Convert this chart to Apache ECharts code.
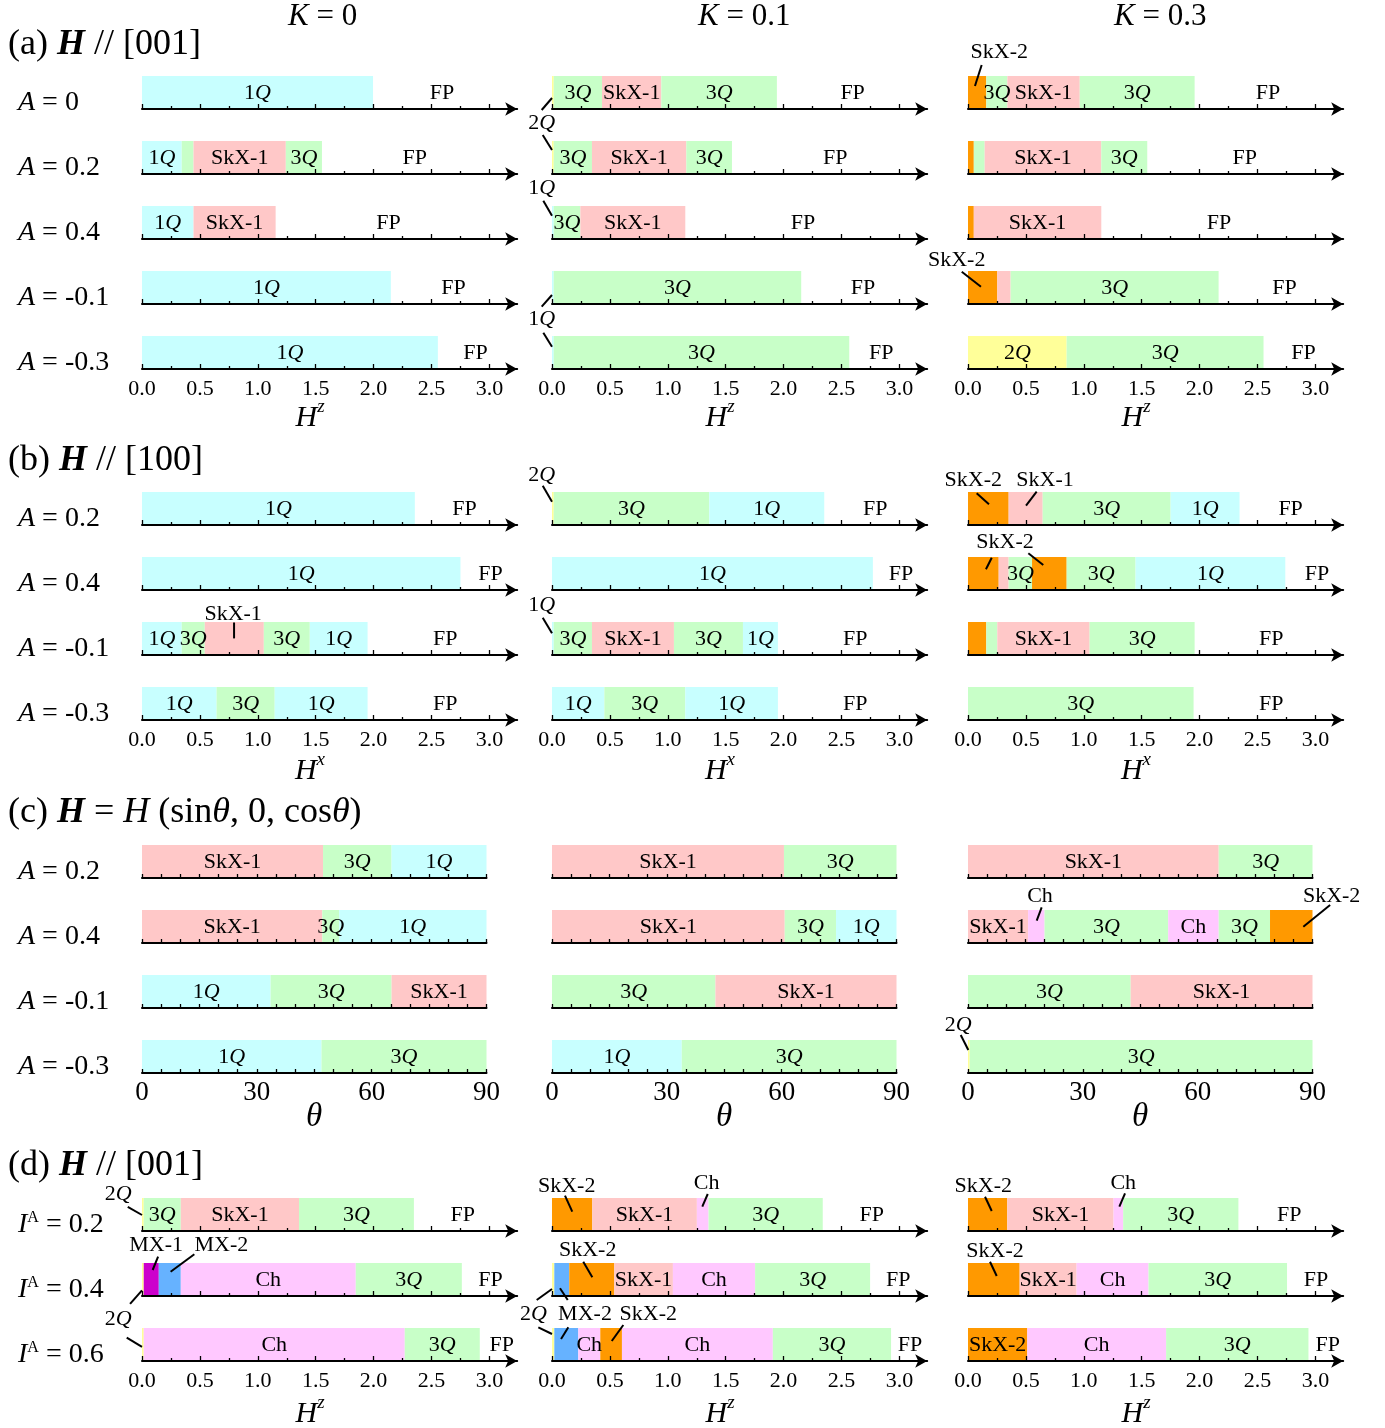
<!DOCTYPE html>
<html>
<head>
<meta charset="utf-8">
<script src="https://cdn.jsdelivr.net/npm/echarts@6/dist/echarts.min.js"></script>
<style>html,body{margin:0;padding:0;background:#fff}#chart{width:1385px;height:1428px}</style>
</head>
<body>
<div id="chart"></div>
<script>
// ---------------- DATA ----------------
// tick values / labels
const H_TICK_LABELS = [0, 0.5, 1.0, 1.5, 2.0, 2.5, 3.0];
const H_MINOR_TICKS = [0.25, 0.75, 1.25, 1.75, 2.25, 2.75];
const THETA_TICK_LABELS = [0, 30, 60, 90];
const THETA_TICKS = [0, 5, 10, 15, 20, 25, 30, 35, 40, 45, 50, 55, 60, 65, 70, 75, 80, 85, 90];

// column headers (K values)
const K_VALUES = ['0', '0.1', '0.3'];
// row labels
const ROWS_A = ['0', '0.2', '0.4', '-0.1', '-0.3'];
const ROWS_B = ['0.2', '0.4', '-0.1', '-0.3'];
const ROWS_C = ['0.2', '0.4', '-0.1', '-0.3'];
const ROWS_D = ['0.2', '0.4', '0.6'];

// segments: [start, end, phase, showLabel]
// (a) H // [001], x = H^z
const SEG_A_K0 = [
  [[0, 1.995, '1Q', 1]],
  [[0, 0.343, '1Q', 1], [0.343, 0.445, '3Q', 0], [0.445, 1.242, 'SkX-1', 1], [1.242, 1.554, '3Q', 1]],
  [[0, 0.445, '1Q', 1], [0.445, 1.154, 'SkX-1', 1]],
  [[0, 2.149, '1Q', 1]],
  [[0, 2.555, '1Q', 1]]
];
const FP_A_K0 = [2.59, 2.356, 2.129, 2.69, 2.88];
const SEG_A_K01 = [
  [[0, 0.015, '2Q', 0], [0.015, 0.432, '3Q', 1], [0.432, 0.944, 'SkX-1', 1], [0.944, 1.942, '3Q', 1]],
  [[0, 0.015, '2Q', 0], [0.015, 0.345, '3Q', 1], [0.345, 1.16, 'SkX-1', 1], [1.16, 1.554, '3Q', 1]],
  [[0, 0.015, '1Q', 0], [0.015, 0.245, '3Q', 1], [0.245, 1.151, 'SkX-1', 1]],
  [[0, 0.015, '1Q', 0], [0.015, 2.152, '3Q', 1]],
  [[0, 0.015, '1Q', 0], [0.015, 2.567, '3Q', 1]]
];
const FP_A_K01 = [2.596, 2.446, 2.167, 2.685, 2.843];
const SEG_A_K03 = [
  [[0, 0.158, 'SkX-2', 0], [0.158, 0.34, '3Q', 1], [0.34, 0.965, 'SkX-1', 1], [0.965, 1.957, '3Q', 1]],
  [[0, 0.05, 'SkX-2', 0], [0.05, 0.144, '3Q', 0], [0.144, 1.151, 'SkX-1', 1], [1.151, 1.548, '3Q', 1]],
  [[0, 0.05, 'SkX-2', 0], [0.05, 1.151, 'SkX-1', 1]],
  [[0, 0.253, 'SkX-2', 0], [0.253, 0.368, 'SkX-1', 0], [0.368, 2.164, '3Q', 1]],
  [[0, 0.852, '2Q', 1], [0.852, 2.552, '3Q', 1]]
];
const FP_A_K03 = [2.59, 2.389, 2.167, 2.734, 2.898];

// (b) H // [100], x = H^x
const SEG_B_K0 = [
  [[0, 2.356, '1Q', 1]],
  [[0, 2.75, '1Q', 1]],
  [[0, 0.343, '1Q', 1], [0.343, 0.542, '3Q', 1], [0.542, 1.052, 'SkX-1', 0], [1.052, 1.449, '3Q', 1], [1.449, 1.948, '1Q', 1]],
  [[0, 0.644, '1Q', 1], [0.644, 1.146, '3Q', 1], [1.146, 1.948, '1Q', 1]]
];
const FP_B_K0 = [2.785, 3.01, 2.619, 2.619];
const SEG_B_K01 = [
  [[0, 0.015, '2Q', 0], [0.015, 1.358, '3Q', 1], [1.358, 2.351, '1Q', 1]],
  [[0, 2.771, '1Q', 1]],
  [[0, 0.015, '1Q', 0], [0.015, 0.345, '3Q', 1], [0.345, 1.053, 'SkX-1', 1], [1.053, 1.649, '3Q', 1], [1.649, 1.951, '1Q', 1]],
  [[0, 0.452, '1Q', 1], [0.452, 1.151, '3Q', 1], [1.151, 1.951, '1Q', 1]]
];
const FP_B_K01 = [2.791, 3.013, 2.619, 2.619];
const SEG_B_K03 = [
  [[0, 0.351, 'SkX-2', 0], [0.351, 0.645, 'SkX-1', 0], [0.645, 1.75, '3Q', 1], [1.75, 2.345, '1Q', 1]],
  [[0, 0.265, 'SkX-2', 0], [0.265, 0.351, 'SkX-1', 0], [0.351, 0.553, '3Q', 1], [0.553, 0.852, 'SkX-2', 0], [0.852, 1.447, '3Q', 1], [1.447, 2.74, '1Q', 1]],
  [[0, 0.158, 'SkX-2', 0], [0.158, 0.253, '3Q', 0], [0.253, 1.05, 'SkX-1', 1], [1.05, 1.957, '3Q', 1]],
  [[0, 1.948, '3Q', 1]]
];
const FP_B_K03 = [2.786, 3.013, 2.619, 2.619];

// (c) H = H(sin θ, 0, cos θ), x = θ
const SEG_C_K0 = [
  [[0, 47.3, 'SkX-1', 1], [47.3, 65.2, '3Q', 1], [65.2, 90, '1Q', 1]],
  [[0, 47.1, 'SkX-1', 1], [47.1, 51.5, '3Q', 1], [51.5, 90, '1Q', 1]],
  [[0, 33.6, '1Q', 1], [33.6, 65.2, '3Q', 1], [65.2, 90, 'SkX-1', 1]],
  [[0, 46.9, '1Q', 1], [46.9, 90, '3Q', 1]]
];
const SEG_C_K01 = [
  [[0, 60.6, 'SkX-1', 1], [60.6, 90, '3Q', 1]],
  [[0, 60.8, 'SkX-1', 1], [60.8, 74.2, '3Q', 1], [74.2, 90, '1Q', 1]],
  [[0, 42.7, '3Q', 1], [42.7, 90, 'SkX-1', 1]],
  [[0, 33.9, '1Q', 1], [33.9, 90, '3Q', 1]]
];
const SEG_C_K03 = [
  [[0, 65.5, 'SkX-1', 1], [65.5, 90, '3Q', 1]],
  [[0, 15.7, 'SkX-1', 1], [15.7, 20.0, 'Ch', 0], [20.0, 52.3, '3Q', 1], [52.3, 65.5, 'Ch', 1], [65.5, 78.9, '3Q', 1], [78.9, 90, 'SkX-2', 0]],
  [[0, 42.5, '3Q', 1], [42.5, 90, 'SkX-1', 1]],
  [[0, 0.44, '2Q', 0], [0.44, 90, '3Q', 1]]
];

// (d) H // [001], I^A rows, x = H^z
const SEG_D_K0 = [
  [[0, 0.015, '2Q', 0], [0.015, 0.335, '3Q', 1], [0.335, 1.356, 'SkX-1', 1], [1.356, 2.348, '3Q', 1]],
  [[0, 0.015, '2Q', 0], [0.015, 0.145, 'MX-1', 0], [0.145, 0.335, 'MX-2', 0], [0.335, 1.846, 'Ch', 1], [1.846, 2.762, '3Q', 1]],
  [[0, 0.015, '2Q', 0], [0.015, 2.269, 'Ch', 1], [2.269, 2.917, '3Q', 1]]
];
const FP_D_K0 = [2.77, 3.01, 3.106];
const SEG_D_K01 = [
  [[0, 0.348, 'SkX-2', 0], [0.348, 1.251, 'SkX-1', 1], [1.251, 1.352, 'Ch', 0], [1.352, 2.338, '3Q', 1]],
  [[0, 0.02, '2Q', 0], [0.02, 0.149, 'MX-2', 0], [0.149, 0.538, 'SkX-2', 0], [0.538, 1.044, 'SkX-1', 1], [1.044, 1.754, 'Ch', 1], [1.754, 2.747, '3Q', 1]],
  [[0, 0.02, '2Q', 0], [0.02, 0.227, 'MX-2', 0], [0.227, 0.417, 'Ch', 1], [0.417, 0.604, 'SkX-2', 0], [0.604, 1.907, 'Ch', 1], [1.907, 2.928, '3Q', 1]]
];
const FP_D_K01 = [2.761, 2.991, 3.092];
const SEG_D_K03 = [
  [[0, 0.339, 'SkX-2', 0], [0.339, 1.257, 'SkX-1', 1], [1.257, 1.34, 'Ch', 0], [1.34, 2.335, '3Q', 1]],
  [[0, 0.446, 'SkX-2', 0], [0.446, 0.938, 'SkX-1', 1], [0.938, 1.559, 'Ch', 1], [1.559, 2.755, '3Q', 1]],
  [[0, 0.512, 'SkX-2', 1], [0.512, 1.711, 'Ch', 1], [1.711, 2.94, '3Q', 1]]
];
const FP_D_K03 = [2.775, 3.005, 3.106];

// callouts (label + leader lines) in data coordinates of the row: [x value, height above axis]
const CALLOUTS_A_K01 = [
  {row: 0, text: '2Q', at: [-0.089, -14], lines: [[-0.089, -1, 0, 11], [-0.080, -26, 0, -41]]},
  {row: 2, text: '1Q', at: [-0.089, 50.5], lines: [[-0.075, 38.3, 0, 23.3]]},
  {row: 3, text: '1Q', at: [-0.089, -15], lines: [[-0.089, -2.7, 0, 9], [-0.075, -28.7, 0, -42.7]]}
];
const CALLOUTS_A_K03 = [
  {row: 0, text: 'SkX-2', at: [0.27, 56.3], lines: [[0.118, 44, 0.06, 23]]},
  {row: 3, text: 'SkX-2', at: [-0.098, 44], lines: [[-0.054, 32.3, 0.112, 17.3]]}
];
const CALLOUTS_B_K0 = [
  {row: 2, text: 'SkX-1', at: [0.787, 41], lines: [[0.795, 32.5, 0.795, 16.6]]}
];
const CALLOUTS_B_K01 = [
  {row: 0, text: '2Q', at: [-0.089, 50], lines: [[-0.080, 39.3, 0, 23.3]]},
  {row: 2, text: '1Q', at: [-0.089, 49.3], lines: [[-0.080, 37.3, 0, 21.7]]}
];
const CALLOUTS_B_K03 = [
  {row: 0, text: 'SkX-2', at: [0.046, 45], lines: [[0.075, 31.7, 0.181, 20.7]]},
  {row: 0, text: 'SkX-1', at: [0.665, 45], lines: [[0.593, 33.3, 0.501, 19.3]]},
  {row: 1, text: 'SkX-2', at: [0.320, 47.7], lines: [[0.205, 32.3, 0.155, 20.7], [0.521, 36.7, 0.650, 25]]}
];
const CALLOUTS_C_K03 = [
  {row: 1, text: 'Ch', at: [18.8, 46.3], lines: [[19.25, 35.7, 17.95, 22.3]]},
  {row: 1, text: 'SkX-2', at: [95.0, 46.3], lines: [[94.6, 38, 87.6, 16.3]]},
  {row: 3, text: '2Q', at: [-2.53, 48], lines: [[-1.9, 38, 0.08, 23]]}
];
const CALLOUTS_D_K0 = [
  {row: 0, text: '2Q', at: [-0.205, 37], lines: [[-0.123, 24.1, 0, 16]]},
  {row: 1, text: 'MX-1', at: [0.122, 50.3], lines: [[0.139, 39.4, 0.092, 26]]},
  {row: 1, text: 'MX-2', at: [0.685, 50.3], lines: [[0.452, 41.8, 0.247, 24.2]]},
  {row: 1, text: '2Q', at: [-0.205, -23], lines: [[-0.103, -7.9, 0, 5.7], [-0.132, -41.6, 0, -50.8]]}
];
const CALLOUTS_D_K01 = [
  {row: 0, text: 'SkX-2', at: [0.127, 44.3], lines: [[0.112, 35.3, 0.175, 19.3]]},
  {row: 0, text: 'Ch', at: [1.336, 47.7], lines: [[1.345, 37, 1.298, 24.3]]},
  {row: 1, text: 'SkX-2', at: [0.308, 45.3], lines: [[0.270, 34.3, 0.348, 18.7]]},
  {row: 1, text: '2Q', at: [-0.161, -18], lines: [[-0.132, -4, 0, 7], [-0.118, -31.3, 0, -38]]},
  {row: 1, text: 'MX-2', at: [0.285, -18], lines: [[0.136, -4, 0.069, 7.7], [0.141, -31.3, 0.078, -43]]},
  {row: 1, text: 'SkX-2', at: [0.832, -18], lines: [[0.616, -29, 0.516, -45]]}
];
const CALLOUTS_D_K03 = [
  {row: 0, text: 'SkX-2', at: [0.132, 44.3], lines: [[0.147, 34.3, 0.205, 20]]},
  {row: 0, text: 'Ch', at: [1.341, 47.7], lines: [[1.356, 37.7, 1.307, 24.3]]},
  {row: 1, text: 'SkX-2', at: [0.233, 45], lines: [[0.190, 34.3, 0.248, 20]]}
];

// ---------------- STYLE / LAYOUT ----------------
const SERIF = 'Liberation Serif';
const PHASE_COLORS = {
  '1Q': '#c8ffff', '2Q': '#ffff99', '3Q': '#c8ffc8', 'SkX-1': '#ffc8c8',
  'SkX-2': '#ff9900', 'Ch': '#ffc8ff', 'MX-1': '#cc00cc', 'MX-2': '#66b2ff'
};
const PHASE_TEXT = {
  '1Q': '1{q|Q}', '2Q': '2{q|Q}', '3Q': '3{q|Q}', 'SkX-1': 'SkX-1', 'SkX-2': 'SkX-2',
  'Ch': 'Ch', 'MX-1': 'MX-1', 'MX-2': 'MX-2', 'FP': 'FP'
};
const COL_X0 = [142, 552, 968];
const H_PX = 115.8;          // px per unit of field
const H_LINE_MAX = 3.24;     // axis line end (arrow tip slightly beyond)
const THETA_W = 344.5;
const BAR_H = 33;
const ROW_GAP = 65;
const LABEL_Y = 16;

const SECTIONS = [
  {title: '(a) {b|H} // [001]', titleY: 45, y0: 109, kind: 'H', rows: ROWS_A, prefix: '{i|A} = ',
   segs: [SEG_A_K0, SEG_A_K01, SEG_A_K03], fp: [FP_A_K0, FP_A_K01, FP_A_K03],
   callouts: [[], CALLOUTS_A_K01, CALLOUTS_A_K03], axisName: '{i|H}{s|z}', nameY: 418},
  {title: '(b) {b|H} // [100]', titleY: 461, y0: 525, kind: 'H', rows: ROWS_B, prefix: '{i|A} = ',
   segs: [SEG_B_K0, SEG_B_K01, SEG_B_K03], fp: [FP_B_K0, FP_B_K01, FP_B_K03],
   callouts: [CALLOUTS_B_K0, CALLOUTS_B_K01, CALLOUTS_B_K03], axisName: '{i|H}{s|x}', nameY: 771},
  {title: '(c) {b|H} = {i|H} (sin{i|θ}, 0, cos{i|θ})', titleY: 813, y0: 878, kind: 'T', rows: ROWS_C, prefix: '{i|A} = ',
   segs: [SEG_C_K0, SEG_C_K01, SEG_C_K03], fp: null,
   callouts: [[], [], CALLOUTS_C_K03], axisName: '{t|θ}', nameY: 1117},
  {title: '(d) {b|H} // [001]', titleY: 1166, y0: 1231, kind: 'H', rows: ROWS_D, prefix: '{i|I}{s|A} = ',
   segs: [SEG_D_K0, SEG_D_K01, SEG_D_K03], fp: [FP_D_K0, FP_D_K01, FP_D_K03],
   callouts: [CALLOUTS_D_K0, CALLOUTS_D_K01, CALLOUTS_D_K03], axisName: '{i|H}{s|z}', nameY: 1414}
];

function textEl(pt, txt) {
  return {
    type: 'text', x: pt[0], y: pt[1], z2: 100,
    style: {
      text: txt, fontFamily: SERIF, fontSize: 22, fill: '#000', align: 'center', verticalAlign: 'middle',
      rich: {q: {fontFamily: SERIF, fontSize: 22, fontStyle: 'italic', fill: '#000'}}
    }
  };
}

function makeRender(segs, fpx, callouts) {
  return function (params, api) {
    const i = params.dataIndex;
    if (i < segs.length) {
      const s = segs[i];
      const a = api.coord([s[0], 0]);
      const b = api.coord([s[1], BAR_H]);
      const ch = [{
        type: 'rect', z2: 1,
        shape: {x: a[0], y: b[1], width: b[0] - a[0], height: a[1] - b[1]},
        style: {fill: PHASE_COLORS[s[2]]}
      }];
      if (s[3]) ch.push(textEl(api.coord([(s[0] + s[1]) / 2, LABEL_Y]), PHASE_TEXT[s[2]]));
      return {type: 'group', children: ch};
    }
    let j = i - segs.length;
    if (fpx != null) {
      if (j === 0) return textEl(api.coord([fpx, LABEL_Y]), 'FP');
      j -= 1;
    }
    const c = callouts[j];
    const ch = c.lines.map(function (l) {
      const p = api.coord([l[0], l[1]]);
      const q = api.coord([l[2], l[3]]);
      return {type: 'line', z2: 90, shape: {x1: p[0], y1: p[1], x2: q[0], y2: q[1]}, style: {stroke: '#000', lineWidth: 2}};
    });
    ch.push(textEl(api.coord(c.at), PHASE_TEXT[c.text]));
    return {type: 'group', children: ch};
  };
}

const grids = [], xAxes = [], yAxes = [], series = [], gfx = [];

SECTIONS.forEach(function (sec) {
  const isH = sec.kind === 'H';
  // section title
  gfx.push({
    type: 'text', x: 8, y: sec.titleY,
    style: {
      text: sec.title, fontFamily: SERIF, fontSize: 36, fill: '#000', align: 'left', verticalAlign: 'middle',
      rich: {
        b: {fontFamily: SERIF, fontSize: 36, fontWeight: 'bold', fontStyle: 'italic', fill: '#000'},
        i: {fontFamily: SERIF, fontSize: 36, fontStyle: 'italic', fill: '#000'}
      }
    }
  });
  sec.rows.forEach(function (rowVal, r) {
    const axisY = sec.y0 + r * ROW_GAP;
    const isLast = r === sec.rows.length - 1;
    // row label
    gfx.push({
      type: 'text', x: 18, y: axisY - 6,
      style: {
        text: sec.prefix + rowVal, fontFamily: SERIF, fontSize: 28, lineHeight: 30, fill: '#000',
        align: 'left', verticalAlign: 'middle',
        rich: {
          i: {fontFamily: SERIF, fontSize: 28, lineHeight: 30, fontStyle: 'italic', fill: '#000'},
          s: {fontFamily: SERIF, fontSize: 16, fill: '#000', verticalAlign: 'top'}
        }
      }
    });
    for (let c = 0; c < 3; c++) {
      const gi = grids.length;
      grids.push({
        left: COL_X0[c], top: axisY - BAR_H,
        width: isH ? H_LINE_MAX * H_PX : THETA_W, height: BAR_H,
        containLabel: false, outerBoundsMode: 'none'
      });
      const mainIdx = xAxes.length;
      xAxes.push({
        gridIndex: gi, type: 'value', min: 0, max: isH ? H_LINE_MAX : 90,
        position: 'bottom', z: 10,
        axisLine: {
          show: true, onZero: false,
          symbol: isH ? ['none', 'arrow'] : ['none', 'none'], symbolSize: [10, 12],
          lineStyle: {color: '#000', width: 2}
        },
        axisTick: {
          show: true, inside: true, length: isH ? 5 : 4,
          customValues: isH ? H_TICK_LABELS : THETA_TICKS,
          lineStyle: {color: '#000', width: 1.3}
        },
        axisLabel: {
          show: isLast,
          customValues: isH ? H_TICK_LABELS : THETA_TICK_LABELS,
          formatter: isH ? function (v) { return v > 3.001 ? '' : v.toFixed(1); }
                         : function (v) { return String(Math.round(v)); },
          fontFamily: SERIF, fontSize: isH ? 22 : 27, color: '#000', margin: isH ? 9 : 6
        },
        splitLine: {show: false},
        minorTick: {show: false}
      });
      if (isH) {
        xAxes.push({
          gridIndex: gi, type: 'value', min: 0, max: H_LINE_MAX, position: 'bottom', z: 10,
          axisLine: {show: false, onZero: false},
          axisTick: {show: true, inside: true, length: 3, customValues: H_MINOR_TICKS,
                     lineStyle: {color: '#000', width: 1.3}},
          axisLabel: {show: false},
          splitLine: {show: false}
        });
      }
      yAxes.push({gridIndex: gi, type: 'value', min: 0, max: BAR_H, show: false});

      const segs = sec.segs[c][r];
      const fpx = sec.fp ? sec.fp[c][r] : null;
      const callouts = sec.callouts[c].filter(function (o) { return o.row === r; });
      const data = segs.map(function (s) { return [s[0], 0]; });
      if (fpx != null) data.push([fpx, LABEL_Y]);
      callouts.forEach(function (o) { data.push(o.at); });
      series.push({
        type: 'custom', xAxisIndex: mainIdx, yAxisIndex: gi, z: 2, clip: false,
        renderItem: makeRender(segs, fpx, callouts),
        data: data, silent: true
      });
    }
  });
  // axis names under each column
  for (let c = 0; c < 3; c++) {
    gfx.push({
      type: 'text', x: COL_X0[c] + (isH ? 168 : 172), y: sec.nameY,
      style: {
        text: sec.axisName, fontFamily: SERIF, fontSize: 30, lineHeight: 42, fill: '#000',
        align: 'center', verticalAlign: 'middle',
        rich: {
          i: {fontFamily: SERIF, fontSize: 30, lineHeight: 42, fontStyle: 'italic', fill: '#000'},
          s: {fontFamily: SERIF, fontSize: 19, fontStyle: 'italic', fill: '#000', verticalAlign: 'top'},
          t: {fontFamily: SERIF, fontSize: 33, fontStyle: 'italic', fill: '#000'}
        }
      }
    });
  }
});

K_VALUES.forEach(function (k, c) {
  gfx.push({
    type: 'text', x: COL_X0[c] + 146, y: 17,
    style: {
      text: '{i|K} = ' + k, fontFamily: SERIF, fontSize: 31, fill: '#000', align: 'left', verticalAlign: 'middle',
      rich: {i: {fontFamily: SERIF, fontSize: 31, fontStyle: 'italic', fill: '#000'}}
    }
  });
});

const chart = echarts.init(document.getElementById('chart'), null, {renderer: 'canvas'});
chart.setOption({
  animation: false,
  backgroundColor: '#fff',
  grid: grids,
  xAxis: xAxes,
  yAxis: yAxes,
  series: series,
  graphic: {elements: gfx}
});
</script>
</body>
</html>
